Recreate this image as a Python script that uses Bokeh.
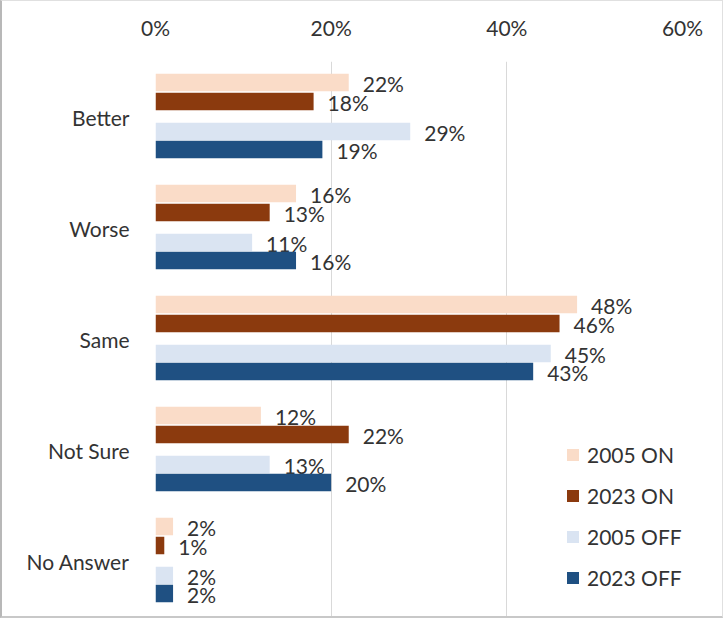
from bokeh.plotting import figure
from bokeh.models import (FactorRange, Range1d, FixedTicker, PrintfTickFormatter,
                          Legend, LegendItem, ColumnDataSource)
from bokeh.transform import dodge
from bokeh.core.properties import value
from bokeh.embed import file_html
from bokeh.resources import INLINE

categories = ["Better", "Worse", "Same", "Not Sure", "No Answer"]
series_names = ["2005 ON", "2023 ON", "2005 OFF", "2023 OFF"]
on_2005 = [22, 16, 48, 12, 2]
on_2023 = [18, 13, 46, 22, 1]
off_2005 = [29, 11, 45, 13, 2]
off_2023 = [19, 16, 43, 20, 2]
x_ticks = [0, 20, 40, 60]

series_values = [on_2005, on_2023, off_2005, off_2023]
colors = ["#FADCC8", "#8B3A0E", "#DAE4F2", "#1F5082"]
offsets = [0.311, 0.14, -0.131, -0.293]

FONT = "Lato"
TXT = "#333333"
FS = "21px"

p = figure(width=723, height=618, output_backend="svg", toolbar_location=None,
           y_range=FactorRange(factors=categories[::-1]),
           x_range=Range1d(0, 60), x_axis_location="above",
           min_border_left=153, min_border_right=43, min_border_top=60,
           min_border_bottom=3)
p.styles = {"border-left": "2px solid #b8b8b8", "border-bottom": "2px solid #c8c8c8",
            "border-top": "1px solid #e0e0e0", "border-right": "1px solid #e0e0e0",
            "box-sizing": "border-box"}
p.outline_line_color = None
p.background_fill_color = "white"
p.border_fill_color = "white"

renderers = []
for name, vals, col, off in zip(series_names, series_values, colors, offsets):
    src = ColumnDataSource(dict(cat=categories, val=vals,
                                lbl=[f"{v}%" for v in vals]))
    r = p.hbar(y=dodge("cat", off, range=p.y_range), left=0, right="val",
               height=0.158, source=src, fill_color=col, line_color=None)
    renderers.append(r)
    p.text(x="val", y=dodge("cat", off, range=p.y_range), text="lbl", source=src,
           x_offset=14, y_offset=1, text_baseline="middle", text_align="left",
           text_font=value(FONT), text_font_size=FS, text_color=TXT)

xa = p.xaxis[0]
xa.ticker = FixedTicker(ticks=x_ticks)
xa.formatter = PrintfTickFormatter(format="%d%%")
xa.axis_line_color = None
xa.major_tick_line_color = None
xa.minor_tick_line_color = None
xa.major_label_text_font = FONT
xa.major_label_text_font_size = FS
xa.major_label_text_color = TXT
xa.major_label_standoff = 16

ya = p.yaxis[0]
ya.axis_line_color = None
ya.major_tick_line_color = None
ya.minor_tick_line_color = None
ya.major_label_text_font = FONT
ya.major_label_text_font_size = FS
ya.major_label_text_color = TXT
ya.major_label_standoff = 20

p.xgrid.grid_line_color = "#d9d9d9"
p.xgrid.ticker = FixedTicker(ticks=x_ticks)
p.ygrid.grid_line_color = None

legend = Legend(items=[LegendItem(label=n, renderers=[r]) for n, r in zip(series_names, renderers)],
                location=(410, 26), orientation="vertical",
                label_text_font=FONT, label_text_font_size=FS, label_text_color=TXT,
                glyph_width=15, glyph_height=15, label_height=20, spacing=16,
                label_standoff=7, padding=0, margin=0,
                border_line_color=None, background_fill_alpha=0)
p.add_layout(legend, "center")

open("out.html", "w").write(file_html(p, INLINE))
